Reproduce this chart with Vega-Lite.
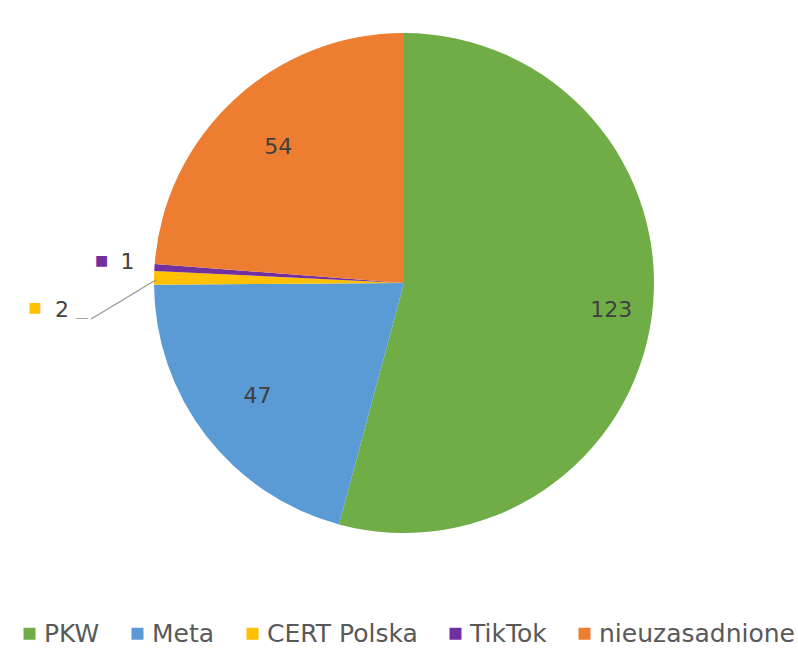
{
  "$schema": "https://vega.github.io/schema/vega-lite/v6.json",
  "width": 788,
  "height": 566,
  "autosize": {"type": "none"},
  "padding": {"left": 10, "top": 0, "right": 0, "bottom": 91},
  "background": "white",
  "config": {"view": {"stroke": null}, "font": "DejaVu Sans"},
  "data": {"values": [
    {"source": "PKW", "value": 123, "idx": 1},
    {"source": "Meta", "value": 47, "idx": 2},
    {"source": "CERT Polska", "value": 2, "idx": 3},
    {"source": "TikTok", "value": 1, "idx": 4},
    {"source": "nieuzasadnione", "value": 54, "idx": 5}
  ]},
  "encoding": {
    "theta": {"field": "value", "type": "quantitative", "stack": true},
    "order": {"field": "idx", "type": "quantitative"}
  },
  "layer": [
    {
      "mark": {"type": "arc", "outerRadius": 250},
      "encoding": {
        "color": {
          "field": "source", "type": "nominal",
          "scale": {"domain": ["PKW", "Meta", "CERT Polska", "TikTok", "nieuzasadnione"],
                    "range": ["#70AD47", "#5B9BD5", "#FFC000", "#7030A0", "#ED7D31"]},
          "legend": {
            "title": null, "orient": "none", "direction": "horizontal",
            "legendX": 7, "legendY": 621, "padding": 0,
            "symbolType": "square", "symbolSize": 144, "symbolStrokeWidth": 0,
            "labelFontSize": 25, "labelColor": "#595959", "labelFont": "DejaVu Sans",
            "labelOffset": 2, "columnPadding": 25, "labelLimit": 400
          }
        }
      }
    },
    {
      "mark": {"type": "text", "radius": 209, "fontSize": 22, "fill": "#404040", "align": "center", "baseline": "middle"},
      "encoding": {"text": {"condition": {"test": "datum.source === 'PKW'", "field": "value", "type": "quantitative"}, "value": ""}}
    },
    {
      "mark": {"type": "text", "radius": 185, "fontSize": 22, "fill": "#404040", "align": "center", "baseline": "middle"},
      "encoding": {"text": {"condition": {"test": "datum.source === 'Meta' || datum.source === 'nieuzasadnione'", "field": "value", "type": "quantitative"}, "value": ""}}
    },
    {
      "mark": {"type": "text", "radius": 277, "dy": -4, "fontSize": 22, "fill": "#404040", "align": "center", "baseline": "middle"},
      "encoding": {"text": {"condition": {"test": "datum.source === 'TikTok'", "field": "value", "type": "quantitative"}, "value": ""}}
    },
    {
      "mark": {"type": "text", "radius": 303, "dy": -3, "fontSize": 14, "fill": "#7030A0", "align": "center", "baseline": "middle"},
      "encoding": {"text": {"condition": {"test": "datum.source === 'TikTok'", "value": "■"}, "value": ""}}
    },
    {
      "mark": {"type": "text", "radius": 342, "dy": 34, "fontSize": 22, "fill": "#404040", "align": "center", "baseline": "middle"},
      "encoding": {"text": {"condition": {"test": "datum.source === 'CERT Polska'", "field": "value", "type": "quantitative"}, "value": ""}}
    },
    {
      "mark": {"type": "text", "radius": 369, "dy": 33, "fontSize": 14, "fill": "#FFC000", "align": "center", "baseline": "middle"},
      "encoding": {"text": {"condition": {"test": "datum.source === 'CERT Polska'", "value": "■"}, "value": ""}}
    },
    {
      "mark": {"type": "text", "radius": 294, "dy": 27, "angle": -31, "fontSize": 14, "font": "DejaVu Sans Mono", "fill": "#9a9a9a", "align": "center", "baseline": "middle"},
      "encoding": {"text": {"condition": {"test": "datum.source === 'CERT Polska'", "value": "─────────"}, "value": ""}}
    },
    {
      "mark": {"type": "text", "radius": 322, "dy": 43, "fontSize": 10, "font": "DejaVu Sans Mono", "fill": "#9a9a9a", "align": "center", "baseline": "middle"},
      "encoding": {"text": {"condition": {"test": "datum.source === 'CERT Polska'", "value": "──"}, "value": ""}}
    }
  ]
}
